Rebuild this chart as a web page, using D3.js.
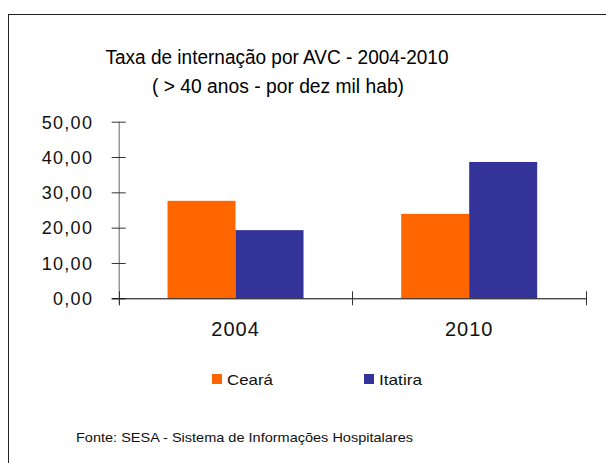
<!DOCTYPE html>
<html lang="pt">
<head>
<meta charset="UTF-8">
<title>Taxa de internação por AVC - 2004-2010</title>
<script src="https://d3js.org/d3.v7.min.js"></script>
<style>
  body { margin: 0; background: #fff; }
  svg { display: block; font-family: "Liberation Sans", Arial, sans-serif; }
</style>
</head>
<body>
<div id="chart"></div>
<script>
// chart data
const years = ["2004", "2010"];
const seriesNames = ["Ceará", "Itatira"];
const ceara = [27.6, 23.9];
const itatira = [19.3, 38.6];
const yTicks = [0, 10, 20, 30, 40, 50];
const colors = ["#FF6600", "#333399"];

const W = 606, H = 463;
const svg = d3.select("#chart").append("svg")
    .attr("width", W).attr("height", H);

// outer frame (right and bottom sides run off the picture)
svg.append("rect")
    .attr("x", 8.5).attr("y", 14.5)
    .attr("width", 620).attr("height", 470)
    .attr("fill", "none").attr("stroke", "#222").attr("stroke-width", 1);

// title
svg.append("text").attr("x", 277).attr("y", 64)
    .attr("text-anchor", "middle").attr("font-size", 20)
    .attr("textLength", 343).attr("lengthAdjust", "spacingAndGlyphs")
    .text("Taxa de internação por AVC - 2004-2010");
svg.append("text").attr("x", 278).attr("y", 93)
    .attr("text-anchor", "middle").attr("font-size", 20)
    .attr("textLength", 252).attr("lengthAdjust", "spacingAndGlyphs")
    .text("( > 40 anos - por dez mil hab)");

const plotL = 118.7, plotR = 586, plotT = 121.7, plotB = 298.3;

const y = d3.scaleLinear().domain([0, 50]).range([plotB, plotT]);
const x0 = d3.scaleBand().domain(years).range([plotL, plotR]).padding(0);
const bw = x0.bandwidth();
const gw = bw * 0.582;
const x1 = d3.scaleBand().domain(seriesNames).range([(bw - gw) / 2, (bw + gw) / 2]);

// bars
const rows = years.map((yr, i) => ({ year: yr, values: [ceara[i], itatira[i]] }));
const groups = svg.append("g").selectAll("g").data(rows).join("g")
    .attr("transform", d => `translate(${x0(d.year)},0)`);
groups.selectAll("rect")
    .data(d => d.values.map((v, j) => ({ name: seriesNames[j], value: v, color: colors[j] })))
    .join("rect")
    .attr("x", d => x1(d.name))
    .attr("width", x1.bandwidth())
    .attr("y", d => y(d.value))
    .attr("height", d => plotB - y(d.value))
    .attr("fill", d => d.color);

// y axis
const yAxis = svg.append("g")
    .attr("transform", `translate(${plotL},0)`)
    .call(d3.axisLeft(y).tickValues(yTicks).tickSizeOuter(0).tickPadding(19.5)
        .tickFormat(d => d3.format(".2f")(d).replace(".", ",")));
yAxis.select(".domain").attr("d", `M0.5,${plotT}V${plotB + 6}`).attr("stroke", "#666");
yAxis.selectAll(".tick line").attr("x1", -7).attr("x2", 7).attr("stroke", "#333");
yAxis.selectAll(".tick text")
    .attr("font-size", 18).attr("fill", "#111").attr("dy", "0.35em")
    .attr("letter-spacing", 1.3);

// x axis
const xAxis = svg.append("g")
    .attr("transform", `translate(0,${plotB})`)
    .call(d3.axisBottom(x0).tickSize(0).tickPadding(20));
xAxis.select(".domain").attr("d", `M${plotL - 7},0.5H${plotR}`).attr("stroke", "#000");
xAxis.selectAll(".tick text")
    .attr("font-size", 20).attr("fill", "#111").attr("letter-spacing", 1)
    .attr("dy", "0.9em");
// separators between categories
const sep = [plotL, plotL + bw, plotR];
xAxis.selectAll(".sep").data(sep).join("line")
    .attr("class", "sep")
    .attr("x1", d => Math.round(d) + 0.5).attr("x2", d => Math.round(d) + 0.5)
    .attr("y1", -7).attr("y2", 7).attr("stroke", "#333");

// legend
const legendX = [212, 364];
const legend = svg.append("g").selectAll("g").data(seriesNames).join("g")
    .attr("transform", (d, i) => `translate(${legendX[i]},374)`);
legend.append("rect").attr("width", 10).attr("height", 10).attr("fill", (d, i) => colors[i]);
legend.append("text").attr("x", 15).attr("y", 10.5)
    .attr("font-size", 15).attr("fill", "#111")
    .attr("textLength", (d, i) => [46, 43][i]).attr("lengthAdjust", "spacingAndGlyphs")
    .text(d => d);

// source note
svg.append("text").attr("x", 76).attr("y", 442)
    .attr("font-size", 13).attr("fill", "#111")
    .attr("textLength", 337).attr("lengthAdjust", "spacingAndGlyphs")
    .text("Fonte: SESA - Sistema de Informações Hospitalares");
</script>
</body>
</html>
